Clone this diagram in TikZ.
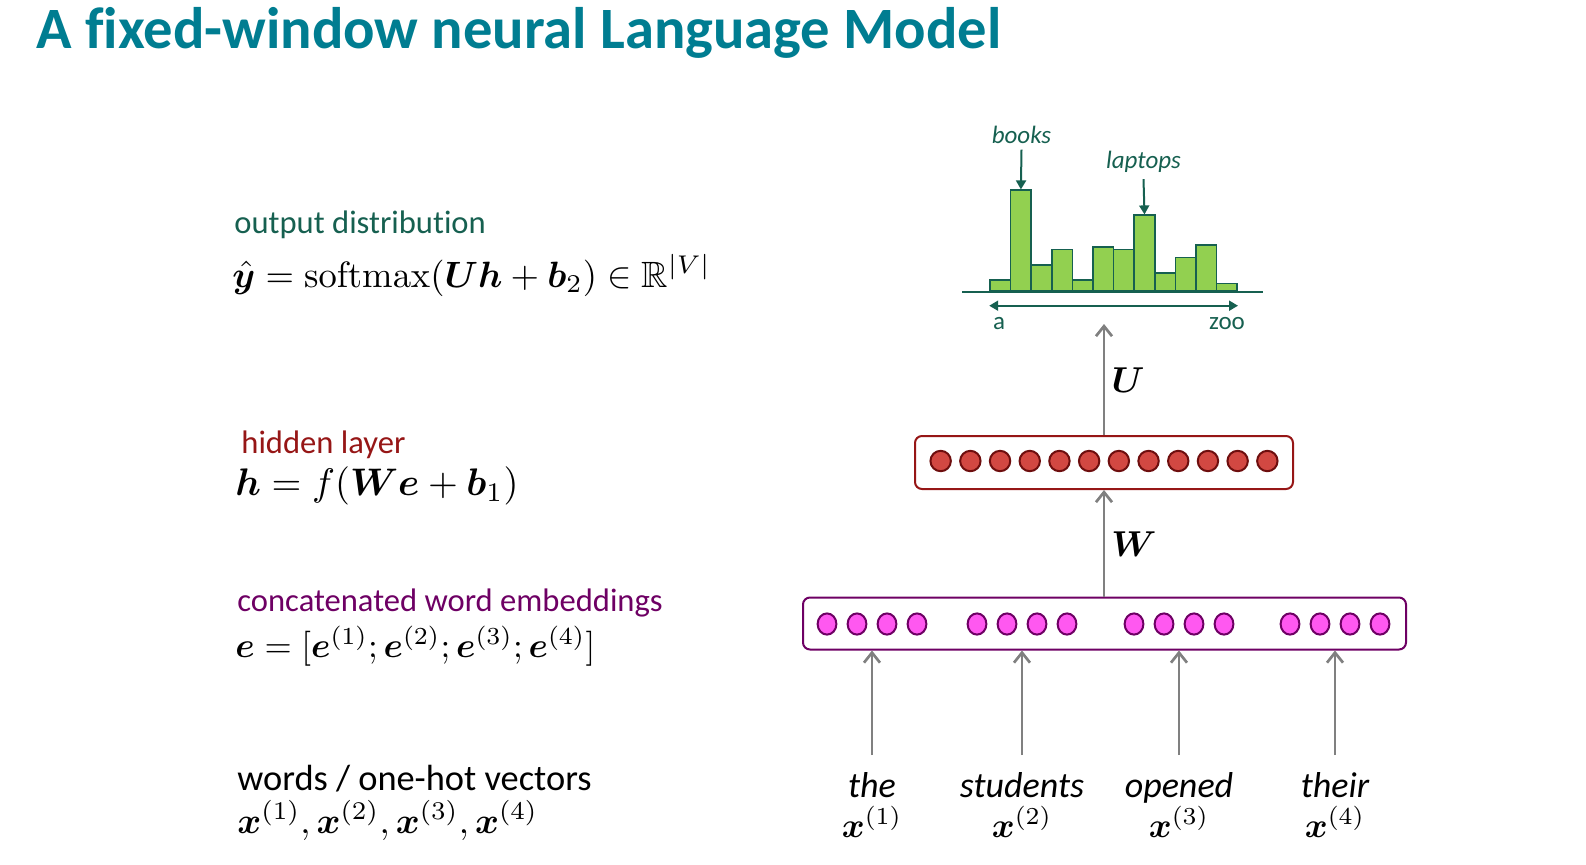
\documentclass[tikz,border=0pt]{standalone}
\usepackage{amsmath}
\usepackage{amssymb}
\usepackage{bm}
\usepackage[no-math]{fontspec}
\setmainfont{Carlito}[Ligatures=CommonOff]
\usepackage{xcolor}
\usetikzlibrary{positioning,arrows.meta,shapes.geometric}
\definecolor{titleteal}{RGB}{0,125,145}
\definecolor{distgreen}{RGB}{22,96,80}
\definecolor{barfill}{RGB}{146,208,80}
\definecolor{hidred}{RGB}{150,22,22}
\definecolor{hidfill}{RGB}{210,72,66}
\definecolor{hidedge}{RGB}{110,14,14}
\definecolor{embpurple}{RGB}{110,0,100}
\definecolor{embfill}{RGB}{255,88,240}
\definecolor{arrowgray}{RGB}{128,128,128}
% math is set at 10pt and blown up, like a pasted formula
\newcommand{\bigeq}[2][1.9]{\scalebox{#1}{$#2$}}

\begin{document}
\begin{tikzpicture}[
  x=0.5pt,y=-0.5pt,
  lbl/.style={anchor=base west,inner sep=0pt,font=\fontsize{16.3}{19}\selectfont},
  eq/.style={anchor=base west,inner sep=0pt,font=\fontsize{10}{12}\selectfont},
  word/.style={anchor=base,inner sep=0pt,font=\fontsize{18}{21}\selectfont\itshape},
  wvec/.style={anchor=base,inner sep=0pt,font=\fontsize{10}{12}\selectfont},
  layer/.style={draw,rounded corners=3.5pt,line width=1pt,fill=white},
  hunit/.style={circle,draw=hidedge,fill=hidfill,line width=1pt,
                minimum size=10.2pt,inner sep=0pt},
  eunit/.style={ellipse,draw=embpurple,fill=embfill,line width=1pt,
                minimum width=9.4pt,minimum height=10.6pt,inner sep=0pt},
  histbar/.style={draw=distgreen,fill=barfill,line width=0.8pt,anchor=south,
                  minimum width=10.3pt,inner sep=0pt},
  histlbl/.style={inner sep=3pt,text=distgreen,font=\fontsize{12.5}{15}\selectfont\itshape},
  pick/.style={-{Triangle[length=4.5pt,width=5pt]},line width=1pt,draw=distgreen},
  ar/.style={-{Straight Barb[length=5pt,width=8pt]},line width=1.35pt,draw=arrowgray}
]
\useasboundingbox (0,0) rectangle (1586,864);

% title
\node[anchor=base west,inner sep=0pt,text=titleteal,
      font=\fontsize{29.3}{34}\selectfont\bfseries] (title) at (36,48)
      {A fixed-window neural Language Model};

% left column
\node[lbl,text=distgreen] (outlbl) at (234,233.5) {output distribution};
\node[eq] (outeq) at (232,287)
  {\bigeq[1.83]{\hat{\bm{y}} = \mathrm{softmax}(\bm{U}\bm{h}+\bm{b}_2) \in \mathbb{R}^{|V|}}};
\node[lbl,text=hidred] (hidlbl) at (241,453) {hidden layer};
\node[eq] (hideq) at (235,495.5) {\bigeq[1.92]{\bm{h} = f(\bm{W}\bm{e}+\bm{b}_1)}};
\node[lbl,text=embpurple] (emblbl) at (237,611) {concatenated word embeddings};
\node[eq] (embeq) at (235,657.5)
  {\bigeq[1.75]{\bm{e} = [\bm{e}^{(1)};\bm{e}^{(2)};\bm{e}^{(3)};\bm{e}^{(4)}]}};
\node[lbl,font=\fontsize{18.2}{21}\selectfont] (wordlbl) at (237,790) {words / one-hot vectors};
\node[eq] (wordeq) at (237,833)
  {\bigeq[1.82]{\bm{x}^{(1)},\bm{x}^{(2)},\bm{x}^{(3)},\bm{x}^{(4)}}};

% output distribution
\foreach \h [count=\i] in {10.7,100.7,25.7,41.3,10.7,44,41.3,75.7,17.7,33.3,45.7,7.3}
  \node[histbar,minimum height=\h*0.5pt] (bar\i) at ({990+20.6*(\i-0.5)},291.7) {};
\draw[distgreen,line width=1pt] (962,291.7) -- (1263,291.7);
\draw[{Triangle[length=4.5pt,width=5pt]}-{Triangle[length=4.5pt,width=5pt]},
      line width=1pt,distgreen]
  ([yshift=-7pt]bar1.south west) -- ([yshift=-7pt]bar12.south east);
\node[histlbl,font=\fontsize{12.5}{15}\selectfont] (alo) at (999,324) {a};
\node[histlbl,font=\fontsize{12.5}{15}\selectfont] (ahi) at (1227,324) {zoo};
\node[histlbl] (books) at (1021.5,134.5) {books};
\node[histlbl] (laptops) at (1143.5,162) {laptops};
\draw[pick] (books.south) -- (bar2.north);
\draw[pick] (laptops.south) -- (bar8.north);

% hidden layer
\node[layer,draw=hidred,minimum width=189pt,minimum height=26.5pt] (hid) at (1104,462.5) {};
\foreach \i in {1,...,12}
  \node[hunit] (hu\i) at ({1104+29.7*(\i-6.5)},461) {};

% embeddings
\node[layer,draw=embpurple,minimum width=301.5pt,minimum height=26pt] (emb) at (1104.5,623.5) {};
\foreach \w/\x [count=\g] in {the/872,students/1022,opened/1179,their/1335} {
  \foreach \j in {1,...,4}
    \node[eunit] (eu\g-\j) at ({\x+30*(\j-2.5)},624) {};
  \node[word] (w\g) at (\x,797) {\w};
  \node[wvec] (x\g) at (\x,837) {\bigeq[1.74]{\bm{x}^{(\g)}}};
  \coordinate (in\g) at (\x,755);
  \draw[ar] (in\g) -- (in\g |- emb.south);
}

% weights
\coordinate (outin) at (1104,324);
\draw[ar] (emb.north -| hid.south) -- (hid.south);
\draw[ar] (hid.north) -- (outin);
\node[font=\fontsize{10}{12}\selectfont] (Wlbl) at (1134,544) {\scalebox{1.8}{$\bm{W}$}};
\node[font=\fontsize{10}{12}\selectfont] (Ulbl) at (1128,380) {\scalebox{1.8}{$\bm{U}$}};
\end{tikzpicture}
\end{document}
